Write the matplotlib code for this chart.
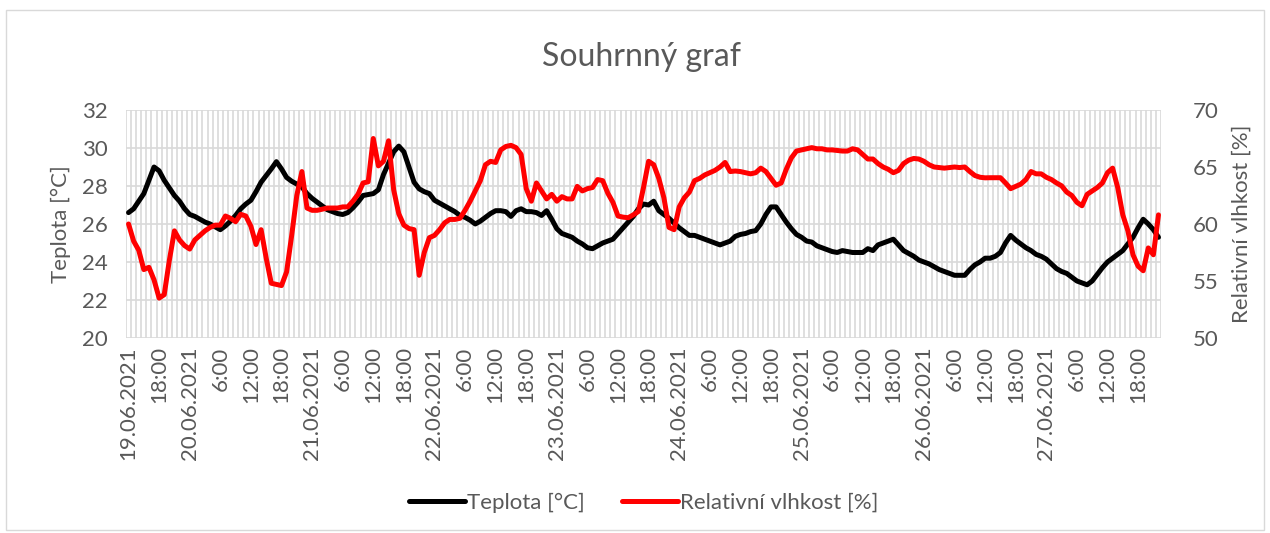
#!/usr/bin/env python3
"""Souhrnný graf: hodinová teplota a relativní vlhkost, 19.06.-27.06.2021."""

from datetime import datetime, timedelta

import matplotlib

matplotlib.use("Agg")
import matplotlib.pyplot as plt
from matplotlib.patches import Rectangle

# Hourly readings starting 19.06.2021 12:00
START = datetime(2021, 6, 19, 12, 0)

TEPLOTA = [
    26.6, 26.8, 27.2, 27.6, 28.3, 29.0, 28.8, 28.3, 27.9, 27.5,
    27.2, 26.8, 26.5, 26.4, 26.25, 26.1, 26.0, 25.85, 25.7, 25.9,
    26.15, 26.45, 26.8, 27.05, 27.25, 27.7, 28.2, 28.55, 28.9, 29.28,
    28.9, 28.45, 28.25, 28.1, 27.95, 27.6, 27.35, 27.15, 26.95, 26.75,
    26.65, 26.55, 26.5, 26.6, 26.85, 27.15, 27.5, 27.55, 27.6, 27.8,
    28.6, 29.2, 29.8, 30.1, 29.8, 29.0, 28.2, 27.85, 27.7, 27.6,
    27.25, 27.1, 26.95, 26.8, 26.65, 26.45, 26.35, 26.2, 26.0, 26.15,
    26.35, 26.55, 26.7, 26.7, 26.65, 26.4, 26.7, 26.8, 26.65, 26.65,
    26.6, 26.45, 26.7, 26.25, 25.75, 25.5, 25.4, 25.3, 25.1, 24.95,
    24.75, 24.7, 24.85, 25.0, 25.1, 25.2, 25.5, 25.8, 26.1, 26.4,
    26.8, 27.05, 27.0, 27.2, 26.7, 26.5, 26.3, 26.05, 25.8, 25.6,
    25.4, 25.4, 25.3, 25.2, 25.1, 25.0, 24.9, 25.0, 25.1, 25.35,
    25.45, 25.5, 25.6, 25.65, 26.0, 26.5, 26.9, 26.9, 26.5, 26.1,
    25.75, 25.45, 25.3, 25.1, 25.05, 24.85, 24.75, 24.65, 24.55, 24.5,
    24.6, 24.55, 24.5, 24.5, 24.5, 24.7, 24.6, 24.9, 25.0, 25.1,
    25.2, 24.9, 24.6, 24.45, 24.3, 24.1, 24.0, 23.9, 23.75, 23.6,
    23.5, 23.4, 23.3, 23.3, 23.3, 23.6, 23.85, 24.0, 24.2, 24.2,
    24.3, 24.5, 25.0, 25.4, 25.15, 24.95, 24.75, 24.6, 24.4, 24.3,
    24.15, 23.9, 23.65, 23.5, 23.4, 23.2, 23.0, 22.9, 22.8, 23.0,
    23.35, 23.7, 24.0, 24.2, 24.4, 24.6, 24.95, 25.3, 25.8, 26.25,
    26.0, 25.7, 25.3,
]

VLHKOST = [
    60.0, 58.5, 57.7, 56.0, 56.2, 55.1, 53.5, 53.8, 56.8, 59.4,
    58.6, 58.1, 57.8, 58.6, 59.0, 59.4, 59.7, 59.9, 59.9, 60.7,
    60.5, 60.2, 60.85, 60.7, 59.8, 58.2, 59.5, 57.0, 54.8, 54.7,
    54.6, 55.8, 59.0, 62.5, 64.6, 61.4, 61.2, 61.2, 61.3, 61.4,
    61.4, 61.4, 61.5, 61.5, 62.0, 62.6, 63.6, 63.7, 67.5, 65.1,
    65.5, 67.3, 63.0, 60.9, 59.9, 59.6, 59.5, 55.5, 57.5, 58.8,
    59.0, 59.5, 60.1, 60.4, 60.4, 60.5, 61.2, 62.0, 62.9, 63.8,
    65.2, 65.5, 65.4, 66.5, 66.8, 66.9, 66.7, 66.1, 63.1, 62.0,
    63.6, 62.9, 62.2, 62.6, 62.0, 62.4, 62.2, 62.2, 63.3, 62.9,
    63.1, 63.2, 63.9, 63.8, 62.7, 61.9, 60.7, 60.6, 60.55, 60.8,
    61.1, 63.2, 65.5, 65.2, 64.0, 62.3, 59.7, 59.5, 61.5, 62.3,
    62.8, 63.8, 64.0, 64.3, 64.5, 64.7, 65.0, 65.4, 64.6, 64.65,
    64.6, 64.5, 64.4, 64.5, 64.9, 64.6, 64.0, 63.4, 63.6, 64.8,
    65.8, 66.4, 66.5, 66.6, 66.7, 66.6, 66.6, 66.5, 66.5, 66.45,
    66.4, 66.4, 66.6, 66.5, 66.1, 65.7, 65.7, 65.3, 65.0, 64.8,
    64.5, 64.7, 65.3, 65.6, 65.75, 65.7, 65.5, 65.2, 65.0, 64.95,
    64.9, 64.95, 65.0, 64.95, 65.0, 64.6, 64.25, 64.1, 64.05, 64.06,
    64.06, 64.06, 63.6, 63.1, 63.3, 63.5, 63.9, 64.6, 64.4, 64.4,
    64.1, 63.9, 63.6, 63.35, 62.8, 62.5, 61.9, 61.6, 62.6, 62.9,
    63.2, 63.6, 64.5, 64.9, 63.2, 60.8, 59.4, 57.3, 56.3, 55.9,
    57.9, 57.3, 60.8,
]

TEXT_COLOR = "#595959"
GRID_COLOR = "#D9D9D9"
FONT = ["Lato", "DejaVu Sans"]
FS = 16


def category_labels(n):
    """Excel-like category text: date on first row / midnight, otherwise H:00."""
    labels = []
    for i in range(n):
        t = START + timedelta(hours=i)
        if i == 0 or t.hour == 0:
            labels.append(t.strftime("%d.%m.%Y"))
        else:
            labels.append(f"{t.hour}:00")
    return labels


def main():
    plt.rcParams["font.family"] = FONT
    n = len(TEPLOTA)
    x = list(range(n))
    labels = category_labels(n)

    fig = plt.figure(figsize=(12.7, 5.33), dpi=100)
    fig.patch.set_facecolor("white")
    fig.patches.append(
        Rectangle((0.005, 0.006), 0.99, 0.975, transform=fig.transFigure,
                  fill=False, edgecolor=GRID_COLOR, linewidth=1.0)
    )

    ax = fig.add_axes([0.0992, 0.3659, 0.8150, 0.4277])
    ax2 = ax.twinx()

    # category gridlines (between tick marks) and value gridlines
    for b in range(n + 1):
        ax.axvline(b - 0.5, color=GRID_COLOR, linewidth=1.2, zorder=0)
    for v in range(20, 33, 2):
        ax.axhline(v, color=GRID_COLOR, linewidth=1.2, zorder=0)

    line_t, = ax.plot(x, TEPLOTA, color="black", linewidth=3.6,
                      solid_capstyle="round", solid_joinstyle="round", zorder=3)
    line_h, = ax2.plot(x, VLHKOST, color="#FF0000", linewidth=3.6,
                       solid_capstyle="round", solid_joinstyle="round", zorder=3)

    ax.set_xlim(-0.5, n - 0.5)
    ax.set_ylim(20, 32)
    ax2.set_ylim(50, 70)
    ax.set_yticks(range(20, 33, 2))
    ax2.set_yticks(range(50, 71, 5))

    ticks = list(range(0, n, 6))
    ax.set_xticks(ticks)
    ax.set_xticklabels([labels[i] for i in ticks], rotation=90, ha="center", va="top")

    for a in (ax, ax2):
        for s in a.spines.values():
            s.set_visible(False)
        a.tick_params(length=0, colors=TEXT_COLOR, labelsize=FS)
    ax.tick_params(axis="x", pad=6)
    ax.tick_params(axis="y", pad=13)
    ax2.tick_params(axis="y", pad=23)

    ax.set_ylabel("Teplota [°C]", fontsize=FS, color=TEXT_COLOR, labelpad=8)
    ax2.set_ylabel("Relativní vlhkost [%]", fontsize=FS, color=TEXT_COLOR, labelpad=9)

    fig.text(0.505, 0.893, "Souhrnný graf", ha="center", va="center",
             fontsize=23, color=TEXT_COLOR)

    fig.legend([line_t, line_h], ["Teplota [°C]", "Relativní vlhkost [%]"],
               loc="center", bbox_to_anchor=(0.507, 0.057), ncol=2, frameon=False,
               fontsize=FS, labelcolor=TEXT_COLOR, handlelength=2.5,
               handletextpad=0.1, columnspacing=1.7)

    fig.savefig("out.png", dpi=100, facecolor=fig.get_facecolor())
    plt.close(fig)


if __name__ == "__main__":
    main()
